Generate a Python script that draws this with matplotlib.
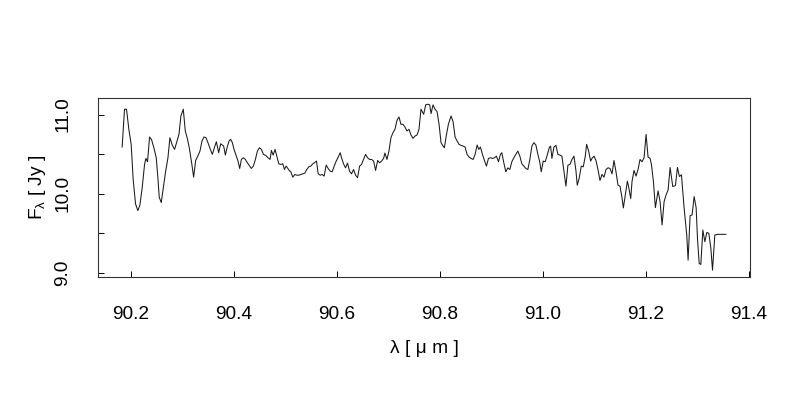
import matplotlib
matplotlib.use("Agg")
import matplotlib.pyplot as plt

plt.rcParams['font.family'] = ['Liberation Sans', 'DejaVu Sans']
plt.rcParams['mathtext.fontset'] = 'custom'
plt.rcParams['mathtext.rm'] = 'Liberation Sans'
plt.rcParams['mathtext.it'] = 'Liberation Sans'
plt.rcParams['mathtext.bf'] = 'Liberation Sans'

wavelength = [
    90.1831, 90.1877, 90.1916, 90.1961, 90.2006, 90.2045, 90.2091, 90.2136, 90.2175, 90.2220,
    90.2266, 90.2292, 90.2324, 90.2363, 90.2402, 90.2447, 90.2493, 90.2525, 90.2551, 90.2590,
    90.2629, 90.2674, 90.2720, 90.2758, 90.2804, 90.2849, 90.2888, 90.2934, 90.2972, 90.3018,
    90.3057, 90.3096, 90.3134, 90.3180, 90.3219, 90.3258, 90.3303, 90.3342, 90.3381, 90.3420,
    90.3459, 90.3497, 90.3543, 90.3582, 90.3621, 90.3660, 90.3705, 90.3744,
    90.3802, 90.3835, 90.3867, 90.3906, 90.3938, 90.3971, 90.4003, 90.4049, 90.4081, 90.4113,
    90.4146, 90.4185, 90.4224, 90.4262, 90.4308, 90.4340, 90.4379, 90.4418, 90.4457, 90.4496,
    90.4535, 90.4574, 90.4619, 90.4664, 90.4703, 90.4729, 90.4762, 90.4800, 90.4839, 90.4872,
    90.4911, 90.4950, 90.4982, 90.5014, 90.5040, 90.5073, 90.5105, 90.5144, 90.5183, 90.5222,
    90.5261, 90.5300, 90.5339, 90.5377, 90.5416, 90.5455, 90.5494, 90.5533, 90.5572, 90.5604,
    90.5637, 90.5676,
    90.5715, 90.5753, 90.5792, 90.5831, 90.5870, 90.5909, 90.5948, 90.5987, 90.6026, 90.6065,
    90.6091, 90.6129, 90.6168, 90.6207, 90.6246, 90.6285, 90.6324, 90.6363, 90.6402, 90.6441,
    90.6479, 90.6518, 90.6557, 90.6596, 90.6635, 90.6674, 90.6713, 90.6752, 90.6791, 90.6830,
    90.6868, 90.6907, 90.6933, 90.6972, 90.7011, 90.7050, 90.7089, 90.7128, 90.7167, 90.7206,
    90.7244, 90.7283, 90.7322, 90.7361, 90.7400, 90.7439, 90.7478, 90.7517, 90.7556, 90.7594,
    90.7633,
    90.7685, 90.7724, 90.7763, 90.7802, 90.7828, 90.7867, 90.7906, 90.7945, 90.7984, 90.8022,
    90.8061, 90.8087, 90.8126, 90.8165, 90.8217, 90.8256, 90.8295, 90.8334, 90.8372, 90.8411,
    90.8450, 90.8489, 90.8528, 90.8567, 90.8606, 90.8645, 90.8684, 90.8723, 90.8755, 90.8787,
    90.8826, 90.8865, 90.8904, 90.8943, 90.8982, 90.9021, 90.9059, 90.9098, 90.9137, 90.9176,
    90.9202, 90.9241, 90.9280, 90.9319, 90.9358, 90.9397, 90.9436, 90.9475, 90.9513, 90.9552,
    90.9591,
    90.9630, 90.9669, 90.9708, 90.9747, 90.9786, 90.9825, 90.9864, 90.9903, 90.9941, 90.9967,
    91.0006, 91.0045, 91.0084, 91.0123, 91.0149, 91.0175, 91.0214, 91.0253, 91.0292, 91.0330,
    91.0369, 91.0408, 91.0447, 91.0486, 91.0525, 91.0564, 91.0603, 91.0641, 91.0667, 91.0706,
    91.0745, 91.0784, 91.0823, 91.0849, 91.0888, 91.0927, 91.0953, 91.0992, 91.1030, 91.1069,
    91.1108, 91.1147, 91.1186, 91.1225, 91.1264, 91.1303, 91.1342, 91.1380, 91.1419, 91.1458,
    91.1497,
    91.1536, 91.1562, 91.1601, 91.1640, 91.1666, 91.1705, 91.1731, 91.1769, 91.1808, 91.1847,
    91.1886, 91.1925, 91.1964, 91.2003, 91.2042, 91.2081, 91.2107, 91.2145, 91.2184, 91.2236,
    91.2275, 91.2314, 91.2353, 91.2392, 91.2431, 91.2470, 91.2521, 91.2573, 91.2612, 91.2651,
    91.2690, 91.2742, 91.2793, 91.2819, 91.2858, 91.2897, 91.2936, 91.2975, 91.3001, 91.3034,
    91.3066, 91.3105, 91.3144, 91.3183, 91.3222, 91.3261, 91.3293, 91.3338, 91.3390, 91.3552,
]

flux = [
    10.590, 11.068, 11.068, 10.814, 10.624, 10.179, 9.871, 9.786, 9.854, 10.074,
    10.370, 10.446, 10.404, 10.717, 10.683, 10.581, 10.454, 10.201, 9.955, 9.888,
    10.065, 10.277, 10.454, 10.708, 10.615, 10.560, 10.645, 10.750, 10.983, 11.068,
    10.793, 10.700, 10.581, 10.391, 10.209, 10.420, 10.480, 10.539, 10.666, 10.717,
    10.708, 10.645, 10.560, 10.497, 10.581, 10.657, 10.518, 10.632,
    10.602, 10.488, 10.581, 10.666, 10.687, 10.645, 10.560, 10.475, 10.412, 10.319,
    10.433, 10.454, 10.433, 10.391, 10.349, 10.319, 10.349, 10.433, 10.539, 10.581,
    10.560, 10.497, 10.484, 10.454, 10.433, 10.547, 10.488, 10.560, 10.463, 10.378,
    10.370, 10.378, 10.306, 10.349, 10.327, 10.294, 10.277, 10.209, 10.243, 10.234,
    10.234, 10.243, 10.251, 10.260, 10.306, 10.340, 10.349, 10.378, 10.395, 10.412,
    10.251, 10.234,
    10.243, 10.222, 10.361, 10.319, 10.285, 10.277, 10.349, 10.412, 10.463, 10.518,
    10.454, 10.378, 10.327, 10.387, 10.285, 10.251, 10.306, 10.234, 10.201, 10.349,
    10.370, 10.433, 10.497, 10.454, 10.433, 10.433, 10.412, 10.294, 10.420, 10.391,
    10.412, 10.446, 10.514, 10.433, 10.539, 10.708, 10.772, 10.814, 10.928, 10.970,
    10.877, 10.877, 10.843, 10.793, 10.814, 10.742, 10.700, 10.729, 10.742, 10.814,
    11.068,
    11.004, 11.123, 11.131, 11.123, 11.013, 11.123, 11.068, 11.038, 10.877, 10.645,
    10.602, 10.581, 10.742, 10.877, 10.983, 10.911, 10.717, 10.666, 10.624, 10.611,
    10.602, 10.590, 10.497, 10.463, 10.446, 10.433, 10.497, 10.615, 10.560, 10.590,
    10.497, 10.420, 10.349, 10.446, 10.454, 10.446, 10.454, 10.475, 10.404, 10.497,
    10.518, 10.391, 10.277, 10.327, 10.306, 10.404, 10.454, 10.497, 10.539, 10.475,
    10.378,
    10.349, 10.319, 10.306, 10.433, 10.602, 10.645, 10.615, 10.497, 10.391, 10.277,
    10.412, 10.404, 10.488, 10.581, 10.602, 10.446, 10.590, 10.611, 10.497, 10.488,
    10.475, 10.285, 10.095, 10.361, 10.370, 10.433, 10.475, 10.294, 10.107, 10.201,
    10.349, 10.340, 10.475, 10.624, 10.539, 10.412, 10.446, 10.475, 10.420, 10.306,
    10.167, 10.243, 10.209, 10.306, 10.327, 10.319, 10.251, 10.420, 10.277, 10.107,
    10.095,
    9.947, 9.820, 9.989, 10.158, 10.082, 9.938, 10.158, 10.294, 10.222, 10.306,
    10.433, 10.404, 10.454, 10.750, 10.463, 10.446, 10.370, 10.158, 9.824, 10.036,
    9.900, 9.604, 9.900, 9.985, 10.048, 10.332, 10.091, 10.103, 10.332, 10.217,
    10.239, 9.816, 9.477, 9.160, 9.723, 9.731, 9.964, 9.824, 9.435, 9.118,
    9.105, 9.541, 9.393, 9.511, 9.498, 9.308, 9.033, 9.477, 9.486, 9.486,
]

x_ticks = [90.2, 90.4, 90.6, 90.8, 91.0, 91.2, 91.4]
y_ticks = [9.0, 9.5, 10.0, 10.5, 11.0]
y_tick_labels = ['9.0', '', '10.0', '', '11.0']

fig = plt.figure(figsize=(8, 4), dpi=100)
ax = fig.add_axes([0.1225, 0.308, 0.815, 0.448])

ax.plot(wavelength, flux, color='#1a1a1a', lw=0.75)

# R-style 4% axis extension
xmin, xmax = min(wavelength), max(wavelength)
ymin, ymax = min(flux), max(flux)
dx = (xmax - xmin) * 0.04
dy = (ymax - ymin) * 0.04
ax.set_xlim(xmin - dx, xmax + dx)
ax.set_ylim(ymin - dy, ymax + dy)

ax.set_xticks(x_ticks)
ax.set_xticklabels([f'{v:.1f}' for v in x_ticks])
ax.set_yticks(y_ticks)
ax.set_yticklabels(y_tick_labels, rotation=90, va='center')

fs = 13.8
ax.tick_params(direction='in', length=4, width=0.7, colors='black', labelsize=fs)
ax.tick_params(axis='x', pad=21)
ax.tick_params(axis='y', pad=19)
for s in ax.spines.values():
    s.set_linewidth(0.8)
    s.set_color('#333333')

ax.set_xlabel('λ [ μ m ]', fontsize=fs, labelpad=12)
ax.set_ylabel(r'F$_{\lambda}$ [ Jy ]', fontsize=fs, labelpad=5)

fig.savefig('out.png', dpi=100)
